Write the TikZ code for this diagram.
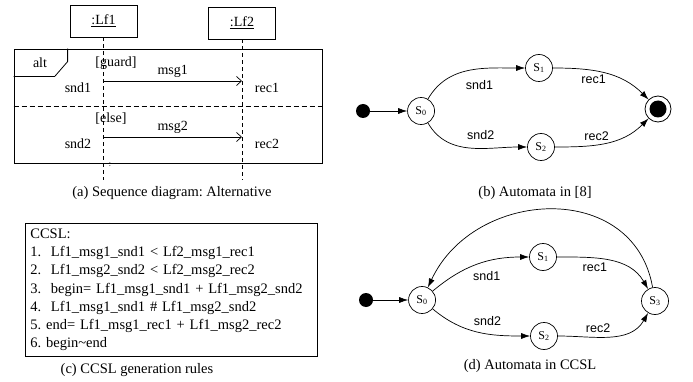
\documentclass[tikz,border=0pt]{standalone}
\usepackage{fontspec}
\setmainfont{Liberation Serif}
\newfontfamily\autofont{Liberation Sans}
\usetikzlibrary{arrows.meta,positioning}
\frenchspacing

\begin{document}
\begin{tikzpicture}[x=1pt, y=-1pt,
    every node/.style={font=\fontsize{14}{16}\selectfont},
    lifebox/.style={draw, line width=0.8pt, minimum width=67pt, minimum height=32pt, inner sep=0pt},
    lifeline/.style={line width=0.7pt, dash pattern=on 4pt off 3pt},
    message/.style={line width=0.7pt, -{Straight Barb[length=5pt,width=9pt]}},
    state/.style={draw, circle, line width=0.7pt, minimum size=27pt, inner sep=0pt, font=\fontsize{12}{14}\selectfont},
    start/.style={circle, fill, minimum size=14pt, inner sep=0pt},
    accept/.style={draw, circle, line width=0.8pt, minimum size=26pt, inner sep=0pt,
      path picture={\fill (path picture bounding box.center) circle (8.5pt);}},
    trans/.style={line width=0.7pt, -{Latex[length=9pt,width=6pt]}},
    tlabel/.style={font=\autofont\fontsize{12.5}{14}\selectfont},
    caption/.style={font=\fontsize{14.5}{17}\selectfont}]
  \useasboundingbox (0,0) rectangle (693,382);

  \node [lifebox] (lf1) at (103.5,21) {\underline{:Lf1}};
  \node [lifebox] (lf2) at (242,23) {\underline{:Lf2}};
  \coordinate (bottom) at (0,180);
  \coordinate (row1) at (0,81);
  \coordinate (row2) at (0,137);
  \draw [lifeline] (lf1) -- (lf1 |- bottom);
  \draw [lifeline] (lf2) -- (lf2 |- bottom);

  \node [draw, line width=0.8pt, minimum width=308pt, minimum height=114pt] (alt) at (168,106) {};
  \draw [line width=0.8pt] (alt.north west) ++(0,28) -- ++(41,0) -- ++(13,-15) -- ++(0,-13);
  \node (altlabel) at (40,63) {alt};
  \draw [line width=0.8pt, dash pattern=on 5pt off 3pt] (alt.west) -- (alt.east);

  \draw [message] (lf1 |- row1) -- (lf2 |- row1) node [midway, above] (msg1) {msg1};
  \draw [message] (lf1 |- row2) -- (lf2 |- row2) node [midway, above] (msg2) {msg2};
  \node (guard) at (116,63) {[guard]};
  \node (else) at (111,119) {[else]};
  \node (snd1) at (78,88) {snd1};
  \node (rec1) at (267,88) {rec1};
  \node (snd2) at (78,144) {snd2};
  \node (rec2) at (267,144) {rec2};
  \node [font=\fontsize{8}{8}\selectfont] (more) at (110,165) {:};
  \node [caption] (capa) at (172,193) {(a) Sequence diagram: Alternative};

  \node [start] (ib) at (363,111) {};
  \node [state, right=37pt of ib] (b0) {S\textsubscript{0}};
  \node [state] (b1) at (539,68) {S\textsubscript{1}};
  \node [state] (b2) at (541,147) {S\textsubscript{2}};
  \node [accept] (bf) at (658,109) {};
  \draw [trans] (ib) -- (b0);
  \draw [trans] (b0) to [out=60, in=180] node [tlabel, pos=.6, below=8pt] {snd1} (b1);
  \draw [trans] (b0) to [out=-60, in=180] node [tlabel, pos=.6, above=5pt] {snd2} (b2);
  \draw [trans] (b1) to [out=0, in=135] node [tlabel, pos=.38, below=0pt] {rec1} (bf);
  \draw [trans] (b2) to [out=0, in=-135] node [tlabel, pos=.4, above=0pt] {rec2} (bf);
  \node [caption] (capb) at (535,193) {(b) Automata in [8]};

  \node [draw, line width=0.8pt, anchor=north west, text width=282pt, inner xsep=5pt,
    minimum height=133pt, align=left, font=\fontsize{14.5}{18.2}\selectfont] (rules) at (25,223)
    {CCSL:\\
     1.\ \ Lf1\_msg1\_snd1 < Lf2\_msg1\_rec1\\
     2.\ \ Lf1\_msg2\_snd2 < Lf2\_msg2\_rec2\\
     3.\ \ begin= Lf1\_msg1\_snd1 + Lf1\_msg2\_snd2\\
     4.\ \ Lf1\_msg1\_snd1 \# Lf1\_msg2\_snd2\\
     5. end= Lf1\_msg1\_rec1 + Lf1\_msg2\_rec2\\
     6. begin\textasciitilde end};
  \node [caption] (capc) at (137,370) {(c) CCSL generation rules};

  \node [start] (id) at (366,300) {};
  \node [state, right=35pt of id] (d0) {S\textsubscript{0}};
  \node [state] (d1) at (543,257) {S\textsubscript{1}};
  \node [state] (d2) at (544,336) {S\textsubscript{2}};
  \node [state] (d3) at (655,301) {S\textsubscript{3}};
  \draw [trans] (id) -- (d0);
  \draw [trans] (d0) to [out=40, in=180] node [tlabel, pos=.6, below=6pt] {snd1} (d1);
  \draw [trans] (d0) to [out=-40, in=180] node [tlabel, pos=.6, above=4pt] {snd2} (d2);
  \draw [trans] (d1) to [out=0, in=120] node [tlabel, pos=.35, below=1pt] {rec1} (d3);
  \draw [trans] (d2) to [out=0, in=-120] node [tlabel, pos=.38, above=1pt] {rec2} (d3);
  \draw [trans] (d3) to [out=100, in=65, looseness=1.25] (d0);
  \node [caption] (capd) at (530,366) {(d) Automata in CCSL};
\end{tikzpicture}
\end{document}
